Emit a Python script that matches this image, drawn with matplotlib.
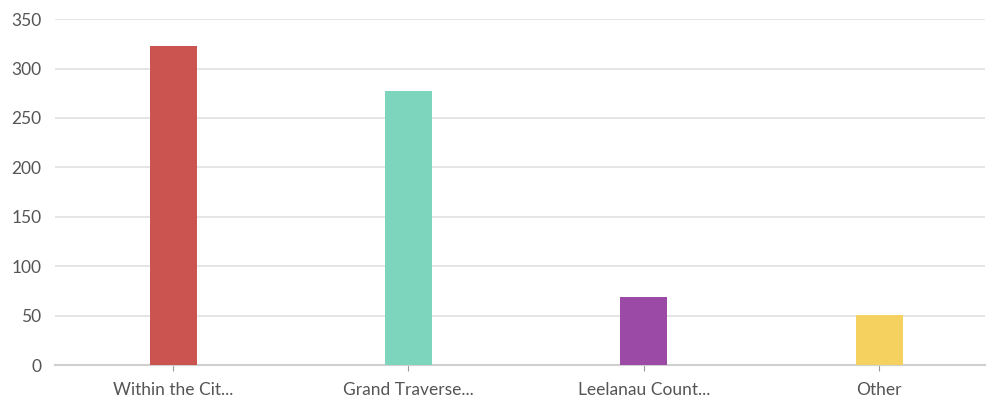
import matplotlib
matplotlib.use('Agg')
import matplotlib.pyplot as plt

# Data
categories = ['Within the Cit...', 'Grand Traverse...', 'Leelanau Count...', 'Other']
values = [323, 277, 69, 51]
colors = ['#cc5450', '#7dd5bd', '#9b4ba5', '#f5d260']

plt.rcParams['font.family'] = ['Lato', 'DejaVu Sans']

fig = plt.figure(figsize=(9.89, 4.07), dpi=100)
ax = fig.add_axes([0.056, 0.103, 0.94, 0.85])

x = list(range(len(categories)))
ax.bar(x, values, width=0.2, color=colors, zorder=3)

ax.set_xlim(-0.5, 3.45)
ax.set_ylim(0, 350)
ax.set_yticks(range(0, 351, 50))
ax.set_xticks(x)
ax.set_xticklabels(categories)

# Grid lines
ax.yaxis.grid(True, color='#e3e3e3', linewidth=1.3, zorder=0)
ax.set_axisbelow(True)

for side in ['top', 'right', 'left']:
    ax.spines[side].set_visible(False)
ax.spines['bottom'].set_color('#cfcfcf')
ax.spines['bottom'].set_linewidth(1.5)

ax.tick_params(axis='y', length=0, labelsize=12.5, labelcolor='#555555', pad=10)
ax.tick_params(axis='x', length=4, color='#999999', labelsize=12.5, labelcolor='#555555', pad=8)

fig.savefig('out.png', dpi=100)
